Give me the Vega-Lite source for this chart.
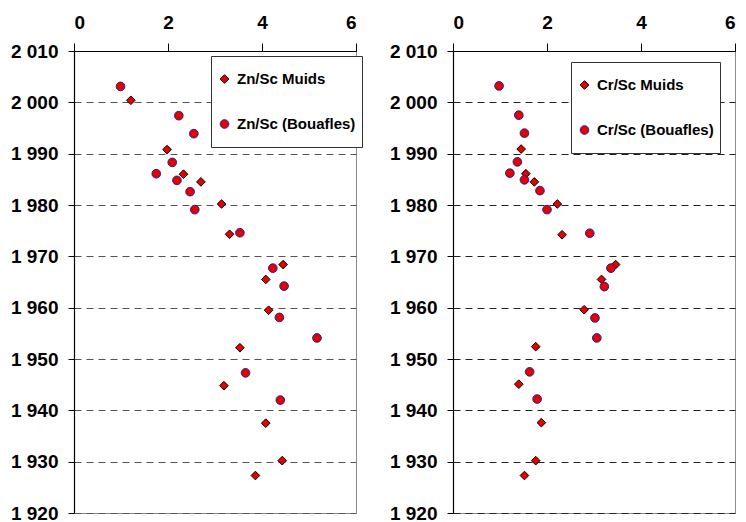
{
  "$schema": "https://vega.github.io/schema/vega-lite/v6.json",
  "background": "white",
  "padding": {"left": 9, "top": 12, "right": 5, "bottom": 5},
  "bounds": "flush",
  "spacing": 97,
  "config": {
    "view": {"stroke": "#8c8c8c", "strokeWidth": 1},
    "axis": {"labelFont": "Liberation Sans", "labelFontWeight": "bold", "labelFontSize": 19, "labelColor": "black", "domainColor": "black", "domainWidth": 1.2, "tickColor": "black", "tickWidth": 1},
    "legend": {"labelFont": "Liberation Sans", "labelFontWeight": "bold", "labelFontSize": 15, "labelColor": "black"}
  },
  "resolve": {"scale": {"shape": "independent", "stroke": "independent"}, "legend": {"shape": "independent", "stroke": "independent"}},
  "hconcat": [
    {
      "width": 282,
      "height": 462,
      "data": {"values": [
        {"series": "Zn/Sc Muids", "ratio": 1.21, "year": 2000.4},
        {"series": "Zn/Sc Muids", "ratio": 1.98, "year": 1990.8},
        {"series": "Zn/Sc Muids", "ratio": 2.33, "year": 1986.0},
        {"series": "Zn/Sc Muids", "ratio": 2.70, "year": 1984.5},
        {"series": "Zn/Sc Muids", "ratio": 3.14, "year": 1980.2},
        {"series": "Zn/Sc Muids", "ratio": 3.31, "year": 1974.3},
        {"series": "Zn/Sc Muids", "ratio": 4.45, "year": 1968.4},
        {"series": "Zn/Sc Muids", "ratio": 4.08, "year": 1965.5},
        {"series": "Zn/Sc Muids", "ratio": 4.14, "year": 1959.5},
        {"series": "Zn/Sc Muids", "ratio": 3.53, "year": 1952.2},
        {"series": "Zn/Sc Muids", "ratio": 3.19, "year": 1944.8},
        {"series": "Zn/Sc Muids", "ratio": 4.08, "year": 1937.5},
        {"series": "Zn/Sc Muids", "ratio": 4.43, "year": 1930.2},
        {"series": "Zn/Sc Muids", "ratio": 3.86, "year": 1927.3},
        {"series": "Zn/Sc (Bouafles)", "ratio": 0.99, "year": 2003.1},
        {"series": "Zn/Sc (Bouafles)", "ratio": 2.23, "year": 1997.4},
        {"series": "Zn/Sc (Bouafles)", "ratio": 2.55, "year": 1993.9},
        {"series": "Zn/Sc (Bouafles)", "ratio": 2.09, "year": 1988.3},
        {"series": "Zn/Sc (Bouafles)", "ratio": 1.75, "year": 1986.1},
        {"series": "Zn/Sc (Bouafles)", "ratio": 2.19, "year": 1984.8},
        {"series": "Zn/Sc (Bouafles)", "ratio": 2.47, "year": 1982.6},
        {"series": "Zn/Sc (Bouafles)", "ratio": 2.57, "year": 1979.1},
        {"series": "Zn/Sc (Bouafles)", "ratio": 3.53, "year": 1974.6},
        {"series": "Zn/Sc (Bouafles)", "ratio": 4.23, "year": 1967.7},
        {"series": "Zn/Sc (Bouafles)", "ratio": 4.47, "year": 1964.2},
        {"series": "Zn/Sc (Bouafles)", "ratio": 4.37, "year": 1958.1},
        {"series": "Zn/Sc (Bouafles)", "ratio": 5.17, "year": 1954.1},
        {"series": "Zn/Sc (Bouafles)", "ratio": 3.65, "year": 1947.3},
        {"series": "Zn/Sc (Bouafles)", "ratio": 4.39, "year": 1942.0}
      ]},
      "mark": {"type": "point", "filled": true, "color": "#e60000", "opacity": 1, "size": 75, "strokeWidth": 1},
      "encoding": {
        "x": {"field": "ratio", "type": "quantitative", "scale": {"domain": [0, 6], "nice": false},
          "axis": {"orient": "top", "values": [0, 2, 4, 6], "grid": false, "tickSize": 8, "labelPadding": 11, "title": null}},
        "y": {"field": "year", "type": "quantitative", "scale": {"domain": [1920, 2010], "nice": false, "zero": false},
          "axis": {"values": [1920, 1930, 1940, 1950, 1960, 1970, 1980, 1990, 2000, 2010], "grid": true, "gridDash": [7, 5], "gridColor": "#555555", "gridWidth": 1.2, "tickSize": 6, "labelPadding": 10, "labelExpr": "replace(format(datum.value, ','), ',', ' ')", "title": null}},
        "shape": {"field": "series", "type": "nominal",
          "scale": {"domain": ["Zn/Sc Muids", "Zn/Sc (Bouafles)"], "range": ["diamond", "circle"]},
          "legend": {"orient": "none", "legendX": 137, "legendY": 5, "title": null, "strokeColor": "#333333", "fillColor": "white", "padding": 6, "symbolSize": 75, "symbolStrokeWidth": 1, "clipHeight": 34, "rowPadding": 11, "labelOffset": 5}},
        "stroke": {"field": "series", "type": "nominal",
          "scale": {"domain": ["Zn/Sc Muids", "Zn/Sc (Bouafles)"], "range": ["#000000", "#2020a0"]},
          "legend": {"orient": "none", "legendX": 137, "legendY": 5, "title": null, "strokeColor": "#333333", "fillColor": "white", "padding": 6, "symbolSize": 75, "symbolStrokeWidth": 1, "clipHeight": 34, "rowPadding": 11, "labelOffset": 5}}
      }
    },
    {
      "width": 282,
      "height": 462,
      "data": {"values": [
        {"series": "Cr/Sc Muids", "ratio": 1.45, "year": 1990.9},
        {"series": "Cr/Sc Muids", "ratio": 1.55, "year": 1986.1},
        {"series": "Cr/Sc Muids", "ratio": 1.73, "year": 1984.5},
        {"series": "Cr/Sc Muids", "ratio": 2.22, "year": 1980.2},
        {"series": "Cr/Sc Muids", "ratio": 2.32, "year": 1974.2},
        {"series": "Cr/Sc Muids", "ratio": 3.46, "year": 1968.4},
        {"series": "Cr/Sc Muids", "ratio": 3.16, "year": 1965.5},
        {"series": "Cr/Sc Muids", "ratio": 2.79, "year": 1959.6},
        {"series": "Cr/Sc Muids", "ratio": 1.76, "year": 1952.4},
        {"series": "Cr/Sc Muids", "ratio": 1.40, "year": 1945.1},
        {"series": "Cr/Sc Muids", "ratio": 1.88, "year": 1937.6},
        {"series": "Cr/Sc Muids", "ratio": 1.76, "year": 1930.2},
        {"series": "Cr/Sc Muids", "ratio": 1.52, "year": 1927.3},
        {"series": "Cr/Sc (Bouafles)", "ratio": 0.98, "year": 2003.2},
        {"series": "Cr/Sc (Bouafles)", "ratio": 1.40, "year": 1997.5},
        {"series": "Cr/Sc (Bouafles)", "ratio": 1.52, "year": 1994.0},
        {"series": "Cr/Sc (Bouafles)", "ratio": 1.37, "year": 1988.4},
        {"series": "Cr/Sc (Bouafles)", "ratio": 1.21, "year": 1986.2},
        {"series": "Cr/Sc (Bouafles)", "ratio": 1.52, "year": 1984.9},
        {"series": "Cr/Sc (Bouafles)", "ratio": 1.85, "year": 1982.8},
        {"series": "Cr/Sc (Bouafles)", "ratio": 2.00, "year": 1979.1},
        {"series": "Cr/Sc (Bouafles)", "ratio": 2.91, "year": 1974.5},
        {"series": "Cr/Sc (Bouafles)", "ratio": 3.36, "year": 1967.7},
        {"series": "Cr/Sc (Bouafles)", "ratio": 3.22, "year": 1964.1},
        {"series": "Cr/Sc (Bouafles)", "ratio": 3.02, "year": 1958.0},
        {"series": "Cr/Sc (Bouafles)", "ratio": 3.06, "year": 1954.1},
        {"series": "Cr/Sc (Bouafles)", "ratio": 1.63, "year": 1947.5},
        {"series": "Cr/Sc (Bouafles)", "ratio": 1.79, "year": 1942.2}
      ]},
      "mark": {"type": "point", "filled": true, "color": "#e60000", "opacity": 1, "size": 75, "strokeWidth": 1},
      "encoding": {
        "x": {"field": "ratio", "type": "quantitative", "scale": {"domain": [0, 6], "nice": false},
          "axis": {"orient": "top", "values": [0, 2, 4, 6], "grid": false, "tickSize": 8, "labelPadding": 11, "title": null}},
        "y": {"field": "year", "type": "quantitative", "scale": {"domain": [1920, 2010], "nice": false, "zero": false},
          "axis": {"values": [1920, 1930, 1940, 1950, 1960, 1970, 1980, 1990, 2000, 2010], "grid": true, "gridDash": [7, 5], "gridColor": "#222222", "gridWidth": 1.2, "tickSize": 6, "labelPadding": 10, "labelExpr": "replace(format(datum.value, ','), ',', ' ')", "title": null}},
        "shape": {"field": "series", "type": "nominal",
          "scale": {"domain": ["Cr/Sc Muids", "Cr/Sc (Bouafles)"], "range": ["diamond", "circle"]},
          "legend": {"orient": "none", "legendX": 118, "legendY": 11, "title": null, "strokeColor": "#333333", "fillColor": "white", "padding": 6, "symbolSize": 75, "symbolStrokeWidth": 1, "clipHeight": 34, "rowPadding": 11, "labelOffset": 5}},
        "stroke": {"field": "series", "type": "nominal",
          "scale": {"domain": ["Cr/Sc Muids", "Cr/Sc (Bouafles)"], "range": ["#000000", "#2020a0"]},
          "legend": {"orient": "none", "legendX": 118, "legendY": 11, "title": null, "strokeColor": "#333333", "fillColor": "white", "padding": 6, "symbolSize": 75, "symbolStrokeWidth": 1, "clipHeight": 34, "rowPadding": 11, "labelOffset": 5}}
      }
    }
  ]
}
